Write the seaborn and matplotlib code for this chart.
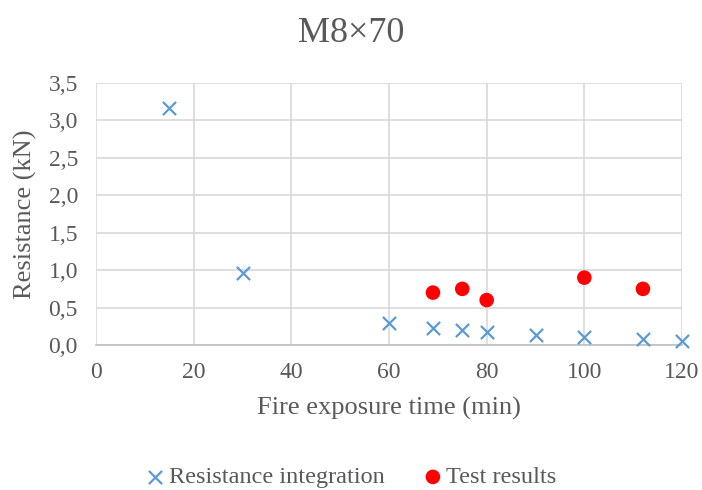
import pandas as pd
import matplotlib.pyplot as plt
import seaborn as sns

# Values
calc_time = [15, 30, 60, 69, 75, 80, 90, 100, 112, 120]
calc_resistance = [3.16, 0.96, 0.29, 0.23, 0.20, 0.17, 0.13, 0.11, 0.08, 0.05]
test_time = [69, 75, 80, 100, 112]
test_resistance = [0.70, 0.75, 0.60, 0.90, 0.75]
x_ticks = [0, 20, 40, 60, 80, 100, 120]
y_ticks = [0.0, 0.5, 1.0, 1.5, 2.0, 2.5, 3.0, 3.5]

calc = pd.DataFrame({"time": calc_time, "res": calc_resistance})
test = pd.DataFrame({"time": test_time, "res": test_resistance})

sns.set_style("white")
plt.rcParams['font.family'] = ['Liberation Serif', 'DejaVu Serif']
text_color = "#595959"

fig = plt.figure(figsize=(7.02, 4.9), dpi=100)
ax = fig.add_axes([0.1368, 0.2959, 0.8347, 0.5347])

sns.scatterplot(data=calc, x="time", y="res", ax=ax, marker="x", s=90,
                color="#5B9BD5", linewidth=1.6, label="Resistance integration",
                zorder=3, clip_on=False)
sns.scatterplot(data=test, x="time", y="res", ax=ax, marker="o", s=110,
                color="#FF0000", edgecolor="none", label="Test results",
                zorder=3, clip_on=False)

ax.set_xlim(0, 120)
ax.set_ylim(0, 3.5)
ax.set_xticks(x_ticks)
ax.set_yticks(y_ticks)
ax.set_yticklabels([f"{v:.1f}".replace(".", ",") for v in y_ticks])
ax.grid(True, color="#D9D9D9", linewidth=1.2)
ax.set_axisbelow(True)
for side in ["top", "right", "left"]:
    ax.spines[side].set_visible(False)
ax.spines["bottom"].set_color("#BFBFBF")
ax.spines["bottom"].set_linewidth(1.2)
ax.tick_params(axis="y", length=0, labelsize=17, colors=text_color, pad=13)
ax.tick_params(axis="x", length=0, labelsize=17, colors=text_color, pad=12)

ax.set_xlabel("Fire exposure time (min)", fontsize=19, color=text_color, labelpad=10)
ax.set_ylabel("Resistance (kN)", fontsize=19, color=text_color, labelpad=8)
fig.suptitle("M8×70", fontsize=26, color=text_color, y=0.965)

ax.legend(loc="center", bbox_to_anchor=(0.5, 0.026), bbox_transform=fig.transFigure,
          ncol=2, frameon=False, fontsize=17.5, labelcolor=text_color,
          handlelength=0.8, handletextpad=0.15, columnspacing=1.6, borderaxespad=0)

fig.savefig("out.png", dpi=100)
